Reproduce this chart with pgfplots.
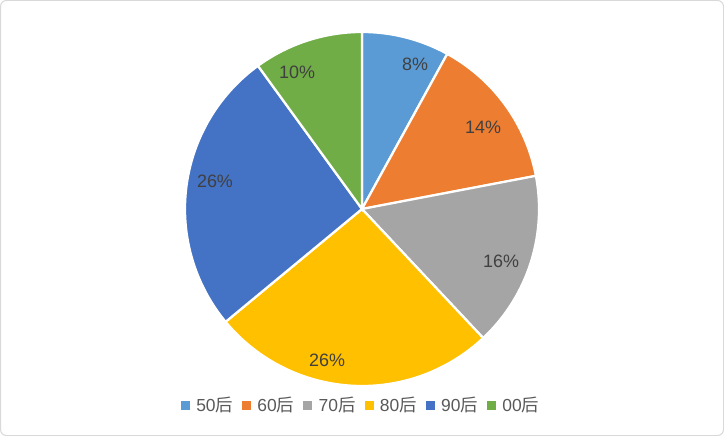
\documentclass[border=0pt]{standalone}
\usepackage{fontspec}
\setmainfont{Liberation Sans}
\newfontfamily\cjk{Noto Sans CJK SC}
\usepackage{pgfplots}
\usepackage{pgfplotstable}
\pgfplotsset{compat=1.18}
\definecolor{c0}{HTML}{5B9BD5}
\definecolor{c1}{HTML}{ED7D31}
\definecolor{c2}{HTML}{A5A5A5}
\definecolor{c3}{HTML}{FFC000}
\definecolor{c4}{HTML}{4472C4}
\definecolor{c5}{HTML}{70AD47}
\definecolor{lbl}{HTML}{404040}
\definecolor{leg}{HTML}{595959}
\definecolor{frame}{HTML}{D9D9D9}

% share of each generation (percent), clockwise from 12 o'clock
\pgfplotstableread{
gen pct lx  ly
50  8   415 372
60  14  483 309
70  16  501 175
80  26  327 76
90  26  215 255
00  10  297 364
}\piedata

\gdef\cum{0}
\pgfplotsforeachungrouped \i in {0,...,5}{%
  \pgfplotstablegetelem{\i}{pct}\of\piedata
  \let\p\pgfplotsretval
  \pgfmathsetmacro\tmpa{90-3.6*(\cum+\p)}%
  \pgfmathsetmacro\tmpb{90-3.6*\cum}%
  \pgfmathtruncatemacro\pint{\p}%
  \expandafter\xdef\csname sa\i\endcsname{\tmpa}%
  \expandafter\xdef\csname sb\i\endcsname{\tmpb}%
  \expandafter\xdef\csname sp\i\endcsname{\pint}%
  \pgfplotstablegetelem{\i}{lx}\of\piedata
  \expandafter\xdef\csname lx\i\endcsname{\pgfplotsretval}%
  \pgfplotstablegetelem{\i}{ly}\of\piedata
  \expandafter\xdef\csname ly\i\endcsname{\pgfplotsretval}%
  \pgfmathsetmacro\cumn{\cum+\p}%
  \xdef\cum{\cumn}%
}

\begin{document}
\begin{tikzpicture}
\begin{axis}[
  width=724bp, height=436bp, scale only axis,
  xmin=0, xmax=724, ymin=0, ymax=436,
  hide axis, clip=false,
  legend columns=6,
  legend style={at={(axis cs:361,31)}, anchor=center, draw=none, fill=none,
    font=\fontsize{17.5}{20}\selectfont, text=leg,
    /tikz/every even column/.append style={column sep=7bp},
    /tikz/every odd column/.append style={column sep=5bp}},
]
\draw[frame, line width=1bp, rounded corners=6bp] (0.5,0.5) rectangle (723.5,435.5);
\pgfplotsinvokeforeach{0,...,5}{
  \addplot[fill=c#1, draw=white, line width=2.25bp, forget plot,
    domain=\csname sa#1\endcsname:\csname sb#1\endcsname, samples=90]
    ({362+177*cos(x)},{227+177*sin(x)}) -- (362,227) -- cycle;
  \node[text=lbl, font=\fontsize{18}{20}\selectfont] at (\csname lx#1\endcsname,\csname ly#1\endcsname) {\csname sp#1\endcsname\%};
}
\addlegendimage{legend image code/.code={\fill[c0] (0bp,-4bp) rectangle (8bp,4bp);}}
\addlegendentry{50{\cjk 后}}
\addlegendimage{legend image code/.code={\fill[c1] (0bp,-4bp) rectangle (8bp,4bp);}}
\addlegendentry{60{\cjk 后}}
\addlegendimage{legend image code/.code={\fill[c2] (0bp,-4bp) rectangle (8bp,4bp);}}
\addlegendentry{70{\cjk 后}}
\addlegendimage{legend image code/.code={\fill[c3] (0bp,-4bp) rectangle (8bp,4bp);}}
\addlegendentry{80{\cjk 后}}
\addlegendimage{legend image code/.code={\fill[c4] (0bp,-4bp) rectangle (8bp,4bp);}}
\addlegendentry{90{\cjk 后}}
\addlegendimage{legend image code/.code={\fill[c5] (0bp,-4bp) rectangle (8bp,4bp);}}
\addlegendentry{00{\cjk 后}}
\end{axis}
\end{tikzpicture}
\end{document}
